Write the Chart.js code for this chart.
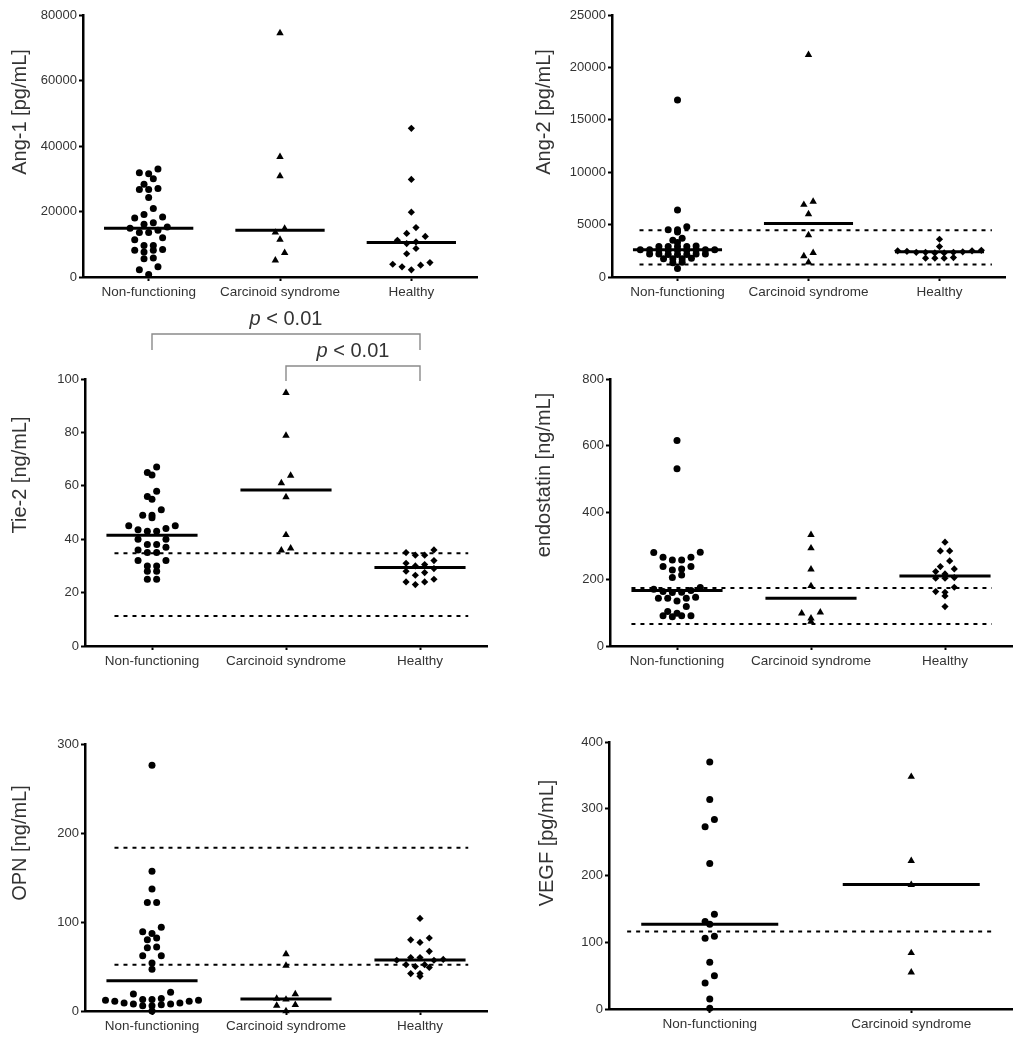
<!DOCTYPE html>
<html>
<head>
<meta charset="utf-8">
<script src="https://cdn.jsdelivr.net/npm/chart.js@4.4.1/dist/chart.umd.min.js"></script>
<style>
  body { margin: 0; background: #fff; }
  #wrap { position: relative; width: 1024px; height: 1041px; }
  canvas { position: absolute; }
</style>
</head>
<body>
<div id="wrap"></div>
<script>
// groups on the x axis
const cats3 = ['Non-functioning', 'Carcinoid syndrome', 'Healthy']
const cats2 = ['Non-functioning', 'Carcinoid syndrome']

// Ang-1 [pg/mL]
const ang1NF = [33000, 31800, 31500, 30000, 28300, 27000, 26700, 26700, 24300, 20900, 19100, 18300, 18000, 16600, 16100, 15300, 14900, 14300, 13600, 13600, 12000, 11400, 9600, 9600, 8400, 8200, 8200, 7600, 5800, 5600, 3100, 2200, 800]
const ang1CS = [74500, 36700, 30800, 14800, 13600, 11400, 7400, 5100]
const ang1HC = [45400, 29800, 19800, 15100, 13300, 12400, 11200, 10700, 10200, 8700, 7100, 4400, 3900, 3600, 3100, 2200]
const ang1Med = [14900, 14300, 10500]

// Ang-2 [pg/mL]
const ang2NF = [16900, 6400, 4800, 4500, 4500, 4300, 3700, 3500, 3300, 2950, 2900, 2900, 2900, 2900, 2600, 2600, 2600, 2600, 2600, 2600, 2550, 2550, 2550, 2200, 2200, 2200, 2200, 2150, 2150, 2150, 1800, 1750, 1750, 1750, 1400, 1350, 800]
const ang2CS = [21200, 7200, 6900, 6000, 4000, 2300, 2000, 1400]
const ang2HC = [3600, 2900, 2550, 2500, 2500, 2450, 2400, 2350, 2350, 2350, 2300, 2300, 1850, 1800, 1800, 1800]
const ang2Med = [2600, 5100, 2400]
const ang2Ref = [4450, 1200]

// Tie-2 [ng/mL]
const tie2NF = [67, 65, 64, 58, 56, 55, 51, 49, 49, 48, 45, 45, 44, 43.5, 43, 43, 40, 40, 38, 38, 37, 36, 35, 35, 32, 32, 30, 30, 28, 28, 25, 25]
const tie2CS = [94.8, 78.8, 63.8, 61, 55.8, 41.6, 36.6, 35.8]
const tie2HC = [36, 35, 34, 34, 32, 31, 30.5, 30, 29, 28, 27.5, 26.5, 25, 24, 24, 23]
const tie2Med = [41.5, 58.4, 29.4]
const tie2Ref = [34.75, 11.25]

// endostatin [ng/mL]
const endoNF = [616, 531, 281, 280, 266, 266, 258, 258, 238, 238, 231, 228, 213, 205, 175, 170, 166, 163, 161, 160, 146, 143, 143, 143, 135, 118, 103, 98, 91, 91, 91, 88]
const endoCS = [333, 293, 230, 180, 101, 98, 83, 73]
const endoHC = [311, 285, 285, 255, 238, 231, 223, 216, 205, 203, 203, 176, 163, 161, 150, 118]
const endoMed = [166, 143, 210]
const endoRef = [174, 66]

// OPN [ng/mL]
const opnNF = [276, 157, 137, 122, 122, 94, 89, 87, 82, 80, 72, 71, 62, 62, 54, 47, 21, 19, 14, 13, 13, 12, 12, 11, 11, 9, 9, 8, 8, 7, 6, 6, 0]
const opnCS = [64, 51, 19, 14, 13, 7, 6, 0]
const opnHC = [104, 82, 80, 77, 67, 60, 60, 58, 57, 57, 52, 52, 50, 49, 42, 42, 39]
const opnMed = [34, 13.5, 57.3]
const opnRef = [183.5, 52]

// VEGF [pg/mL]
const vegfNF = [370, 314, 284, 273, 218, 142, 131, 127, 109, 106, 70, 50, 39, 15, 1]
const vegfCS = [348, 222, 186, 84, 55]
const vegfMed = [127, 186.5]
const vegfRef = [116]

const FONT = '"Liberation Sans", Arial, Helvetica, sans-serif'
const styles = ['circle', 'triangle', 'rectRot']
const radii = [3.5, 4.3, 3.6]

// box = canvas [left, top, w, h]; area = plot [left, top, right, bottom] in page px
const panels = [
    { title: 'Ang-1 [pg/mL]', cats: cats3, groups: [ang1NF, ang1CS, ang1HC], med: ang1Med, ref: [], yMax: 80000, yStep: 20000,
      box: [0, 0, 500, 300], area: [83, 15, 477, 277], titlePos: [20, 112] },
    { title: 'Ang-2 [pg/mL]', cats: cats3, groups: [ang2NF, ang2CS, ang2HC], med: ang2Med, ref: ang2Ref, refSpan: [0.21, 2.9], yMax: 25000, yStep: 5000,
      box: [512, 0, 512, 300], area: [612, 15, 1005, 277], titlePos: [544, 112], rowH: 3.5 },
    { title: 'Tie-2 [ng/mL]', cats: cats3, groups: [tie2NF, tie2CS, tie2HC], med: tie2Med, ref: tie2Ref, refSpan: [0.22, 2.86], yMax: 100, yStep: 20,
      box: [0, 300, 500, 390], area: [85, 379, 487, 646], titlePos: [20, 475], brackets: true },
    { title: 'endostatin [ng/mL]', cats: cats3, groups: [endoNF, endoCS, endoHC], med: endoMed, ref: endoRef, refSpan: [0.16, 2.85], yMax: 800, yStep: 200,
      box: [512, 300, 512, 390], area: [610, 379, 1012, 646], titlePos: [544, 475] },
    { title: 'OPN [ng/mL]', cats: cats3, groups: [opnNF, opnCS, opnHC], med: opnMed, ref: opnRef, refSpan: [0.22, 2.86], yMax: 300, yStep: 100,
      box: [0, 690, 500, 351], area: [85, 744, 487, 1011], titlePos: [20, 843] },
    { title: 'VEGF [pg/mL]', cats: cats2, groups: [vegfNF, vegfCS], med: vegfMed, ref: vegfRef, refSpan: [0.09, 1.9], yMax: 400, yStep: 100,
      box: [512, 690, 512, 351], area: [609, 742, 1012, 1009], titlePos: [547, 843] }
]

// Prism-like scatter: points whose pixel heights fall within rowH form a row,
// spread symmetrically with a fixed spacing
function swarm(values, pxY, pxX, rowH) {
    const s = 9.3
    const order = values.map((v, i) => i).sort((a, b) => values[b] - values[a])
    const offs = []
    let row = []
    const flush = () => {
        const n = row.length
        const pos = []
        for (let j = 0; j < n; j++) pos.push((j - (n - 1) / 2) * s)
        // outer positions first, right then left
        pos.sort((a, b) => Math.abs(b) - Math.abs(a) || b - a)
        row.forEach((idx, j) => { offs[idx] = pos[j] })
        row = []
    }
    for (const i of order) {
        if (row.length && (values[row[0]] - values[i]) * pxY > rowH) flush()
        row.push(i)
    }
    flush()
    return offs.map(o => o / pxX)
}

function drawP(ctx, cx, cy) {
    const rest = ' < 0.01'
    ctx.font = 'italic 20px ' + FONT
    const wp = ctx.measureText('p').width
    ctx.font = '20px ' + FONT
    const wr = ctx.measureText(rest).width
    const x0 = cx - (wp + wr) / 2
    ctx.textBaseline = 'middle'
    ctx.textAlign = 'left'
    ctx.font = 'italic 20px ' + FONT
    ctx.fillText('p', x0, cy)
    ctx.font = '20px ' + FONT
    ctx.fillText(rest, x0 + wp, cy)
}

const wrap = document.getElementById('wrap')

panels.forEach(p => {
    const [bx, by, bw, bh] = p.box
    const [L, T, R, B] = p.area
    const pxY = (B - T) / p.yMax
    const pxX = (R - L) / p.cats.length

    const canvas = document.createElement('canvas')
    canvas.width = bw
    canvas.height = bh
    canvas.style.left = bx + 'px'
    canvas.style.top = by + 'px'
    wrap.appendChild(canvas)

    const datasets = []
    p.groups.forEach((vals, i) => {
        const offs = swarm(vals, pxY, pxX, p.rowH || 8)
        datasets.push({
            data: vals.map((v, j) => ({ x: i + 0.5 + offs[j], y: v })),
            pointStyle: styles[i],
            pointRadius: radii[i],
            backgroundColor: '#000',
            borderColor: '#000',
            borderWidth: 0,
            clip: false
        })
        datasets.push({
            data: [{ x: i + 0.5 - 0.34, y: p.med[i] }, { x: i + 0.5 + 0.34, y: p.med[i] }],
            showLine: true,
            borderColor: '#000',
            borderWidth: 3,
            pointRadius: 0
        })
    })
    p.ref.forEach(r => {
        datasets.push({
            data: [{ x: p.refSpan[0], y: r }, { x: p.refSpan[1], y: r }],
            showLine: true,
            borderColor: '#000',
            borderWidth: 2,
            borderDash: [4, 5],
            pointRadius: 0
        })
    })

    const plugins = [{
        id: 'ytitle',
        afterDraw(chart) {
            const ctx = chart.ctx
            ctx.save()
            ctx.translate(p.titlePos[0] - bx, p.titlePos[1] - by)
            ctx.rotate(-Math.PI / 2)
            ctx.font = '20px ' + FONT
            ctx.fillStyle = '#333'
            ctx.textAlign = 'center'
            ctx.textBaseline = 'middle'
            ctx.fillText(p.title, 0, 0)
            ctx.restore()
        }
    }]
    if (p.brackets) {
        plugins.push({
            id: 'brackets',
            afterDraw(chart) {
                const ctx = chart.ctx
                const x = chart.scales.x
                const a = x.getPixelForValue(0.5), b = x.getPixelForValue(1.5), c = x.getPixelForValue(2.5)
                ctx.save()
                ctx.strokeStyle = '#8a8a8a'
                ctx.lineWidth = 1.4
                ctx.beginPath()
                ctx.moveTo(a, 50); ctx.lineTo(a, 34); ctx.lineTo(c, 34); ctx.lineTo(c, 50)
                ctx.moveTo(b, 81); ctx.lineTo(b, 66); ctx.lineTo(c, 66); ctx.lineTo(c, 81)
                ctx.stroke()
                ctx.fillStyle = '#333'
                drawP(ctx, (a + c) / 2, 19)
                drawP(ctx, (b + c) / 2, 51)
                ctx.restore()
            }
        })
    }

    const tickGrid = { drawOnChartArea: false, drawTicks: true, tickLength: 4, tickColor: '#000', tickWidth: 2 }
    const axisBorder = { display: true, color: '#000', width: 2.5 }

    new Chart(canvas, {
        type: 'scatter',
        data: { datasets },
        options: {
            responsive: false,
            animation: false,
            events: [],
            layout: { padding: { top: T - by, right: bx + bw - R, left: 0, bottom: 0 } },
            plugins: { legend: { display: false }, tooltip: { enabled: false } },
            scales: {
                x: {
                    type: 'linear',
                    min: 0,
                    max: p.cats.length,
                    afterBuildTicks: s => { s.ticks = p.cats.map((c, i) => ({ value: i + 0.5 })) },
                    afterFit: s => { s.height = by + bh - B },
                    ticks: {
                        autoSkip: false, maxRotation: 0, padding: 3, color: '#333',
                        font: { family: FONT, size: 13.5 },
                        callback: (v, i) => p.cats[i]
                    },
                    grid: tickGrid,
                    border: axisBorder
                },
                y: {
                    min: 0,
                    max: p.yMax,
                    afterFit: s => { s.width = L - bx },
                    ticks: {
                        stepSize: p.yStep, padding: 2, color: '#333',
                        font: { family: FONT, size: 13 },
                        callback: v => String(v)
                    },
                    grid: tickGrid,
                    border: axisBorder
                }
            }
        },
        plugins
    })
})
</script>
</body>
</html>
